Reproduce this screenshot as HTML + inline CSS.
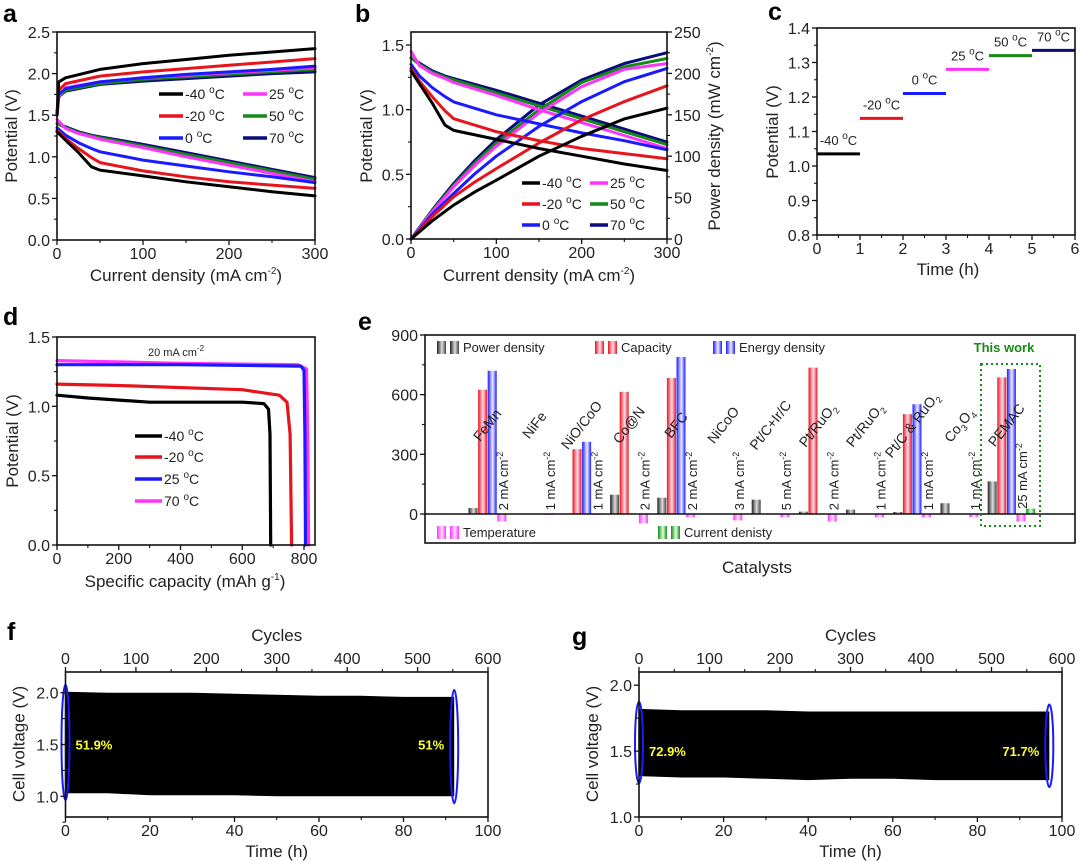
<!DOCTYPE html>
<html><head><meta charset="utf-8"><style>
html,body{margin:0;padding:0;background:#fff;}
svg{display:block;font-family:"Liberation Sans",Arial,sans-serif;}
</style></head><body>
<svg id="fig" width="1080" height="861" viewBox="0 0 1080 861" xmlns="http://www.w3.org/2000/svg">
<defs>
<linearGradient id="gBlack" x1="0" x2="1" y1="0" y2="0"><stop offset="0" stop-color="#222"/><stop offset="0.55" stop-color="#ddd"/><stop offset="1" stop-color="#444"/></linearGradient>
<linearGradient id="gRed" x1="0" x2="1" y1="0" y2="0"><stop offset="0" stop-color="#e8141b"/><stop offset="0.55" stop-color="#fde"/><stop offset="1" stop-color="#e8141b"/></linearGradient>
<linearGradient id="gBlue" x1="0" x2="1" y1="0" y2="0"><stop offset="0" stop-color="#1a1aff"/><stop offset="0.55" stop-color="#eef"/><stop offset="1" stop-color="#1a1aff"/></linearGradient>
<linearGradient id="gPink" x1="0" x2="1" y1="0" y2="0"><stop offset="0" stop-color="#ff33ff"/><stop offset="0.55" stop-color="#fdf"/><stop offset="1" stop-color="#ff33ff"/></linearGradient>
<linearGradient id="gGreen" x1="0" x2="1" y1="0" y2="0"><stop offset="0" stop-color="#168a16"/><stop offset="0.55" stop-color="#dfd"/><stop offset="1" stop-color="#168a16"/></linearGradient>
</defs>
</svg>
<script>
// ---------- data ----------
const tempLabels=['-40','-20','0','25','50','70'];
const tempColors=['#000','#e8141b','#1a1aff','#ff33ff','#168a16','#0b0b7a'];
// panel a
const aChgX=[0,2,10,50,100,150,200,250,300];
const aChgM40=[1.5,1.9,1.95,2.05,2.12,2.17,2.22,2.26,2.30];
const aChgM20=[1.5,1.8,1.88,1.97,2.02,2.06,2.10,2.14,2.18];
const aChg0=[1.5,1.75,1.82,1.90,1.95,1.99,2.02,2.05,2.09];
const aChg25=[1.5,1.72,1.83,1.90,1.95,1.98,2.01,2.04,2.07];
const aChg50=[1.5,1.72,1.80,1.88,1.93,1.96,1.99,2.02,2.05];
const aChg70=[1.5,1.72,1.79,1.87,1.91,1.94,1.97,2.00,2.02];
const disX=[0,10,25,40,50,100,150,200,250,300];
const disM40=[1.30,1.20,1.05,0.88,0.84,0.77,0.70,0.64,0.58,0.53];
const disM20=[1.32,1.22,1.10,0.99,0.93,0.83,0.76,0.70,0.66,0.62];
const dis0=[1.35,1.26,1.17,1.10,1.06,0.96,0.89,0.82,0.76,0.69];
const dis25=[1.45,1.34,1.28,1.24,1.21,1.11,1.00,0.90,0.80,0.70];
const dis50=[1.40,1.35,1.29,1.25,1.23,1.13,1.03,0.93,0.83,0.73];
const dis70=[1.40,1.36,1.30,1.26,1.24,1.15,1.05,0.95,0.85,0.75];
// panel b power
const powX=[0,25,50,75,100,150,200,250,300];
const powM40=[0,22,41,57,71,100,124,145,158];
const powM20=[0,27,51,69,85,116,144,166,185];
const pow0=[0,30,55,79,100,136,166,190,206];
const pow25=[0,33,63,89,112,152,184,205,212];
const pow50=[0,34,65,92,116,156,189,208,218];
const pow70=[0,35,67,95,120,162,192,212,225];
// panel c
const cStart=[0,1,2,3,4,5];
const cPotential=[1.035,1.138,1.21,1.28,1.32,1.335];
// panel d
const dM40X=[0,100,300,600,670,685,690,692];const dM40Y=[1.08,1.06,1.03,1.03,1.02,0.98,0.8,0];
const dM20X=[0,200,600,720,745,755,760];const dM20Y=[1.16,1.15,1.12,1.08,1.03,0.8,0];
const d25X=[0,400,790,800,803,805];const d25Y=[1.30,1.30,1.29,1.26,0.8,0];
const d70X=[0,400,780,808,812,815];const d70Y=[1.33,1.31,1.30,1.27,0.8,0];
// panel e
const catalysts=['FeMn','NiFe','NiO/CoO','Co@N','BFC','NiCoO','Pt/C+Ir/C','Pt/RuO<tspan font-size="9" dy="4">2</tspan>','Pt/RuO<tspan font-size="9" dy="4">2</tspan>','Pt/C &amp; RuO<tspan font-size="9" dy="4">2</tspan>','Co<tspan font-size="9" dy="4">3</tspan><tspan dy="-4">O</tspan><tspan font-size="9" dy="4">4</tspan>','PEMAC'];
const powerDensity=[30,0,0,97,82,0,72,12,22,10,54,164];
const capacity=[625,0,326,614,684,0,0,736,0,502,0,687];
const energyDensity=[720,0,363,0,790,0,0,0,0,552,0,729];
const temperature=[-38,-5,-5,-47,-17,-32,-17,-38,-17,-17,-17,-38];
const currentDensity=[0,0,0,0,0,0,0,0,0,0,0,27];
const currentLabels=['2','1','1','2','2','3','5','2','1','1','1','25'];
// panel f/g
const fTime=[0,10,20,30,40,50,60,70,80,92];
const fUpper=[2.01,2.0,2.0,2.0,1.99,1.98,1.97,1.97,1.96,1.96];
const fLower=[1.03,1.03,1.01,1.01,1.01,1.0,1.0,1.0,1.0,1.0];
const gTime=[0,10,20,30,40,50,60,70,80,97];
const gUpper=[1.82,1.81,1.81,1.81,1.80,1.80,1.80,1.80,1.80,1.80];
const gLower=[1.31,1.30,1.30,1.29,1.28,1.29,1.29,1.28,1.28,1.28];

// ---------- helpers ----------
const NS='http://www.w3.org/2000/svg';
const svg=document.getElementById('fig');
const TICK=16,TITLE=17;
function mk(tag,attrs,parent){const e=document.createElementNS(NS,tag);for(const k in attrs)e.setAttribute(k,attrs[k]);(parent||svg).appendChild(e);return e;}
function txt(html,x,y,attrs,name,parent){const e=mk('text',Object.assign({x:x,y:y,'font-size':TICK,fill:'#222'},attrs||{}),parent);e.innerHTML=html;


return e;}
function lin(d0,d1,r0,r1){return v=>r0+(v-d0)/(d1-d0)*(r1-r0);}
function deg(t){return t+' <tspan font-size="10" dy="-6">o</tspan><tspan dy="6">C</tspan>';}
function grp(name){const g=mk('g',{});


return g;}
function line(X,Y,xs,ys,color,w,name,parent){
 const p=mk('path',{d:xs.map((x,i)=>(i?'L':'M')+X(x).toFixed(1)+','+Y(ys[i]).toFixed(1)).join(''),fill:'none',stroke:color,'stroke-width':w,'stroke-linejoin':'round','stroke-linecap':'round'},parent);
 
 
 return p;}
function frame(x0,x1,y0,y1,parent){const r=mk('rect',{x:x0,y:y0,width:x1-x0,height:y1-y0,fill:'none',stroke:'#111','stroke-width':1.6},parent);

}
function xTicks(X,yPos,vals,minor,dir,parent,labelY,fmt){
 vals.forEach(v=>{const t=mk('line',{x1:X(v),x2:X(v),y1:yPos,y2:yPos+5*dir,stroke:'#111','stroke-width':1.3},parent);
 
 
 txt(fmt?fmt(v):String(v),X(v),labelY,{'text-anchor':'middle'},'x-tick-label',parent);});
 minor.forEach(v=>{const t=mk('line',{x1:X(v),x2:X(v),y1:yPos,y2:yPos+3*dir,stroke:'#111','stroke-width':1.1},parent);
 
 });}
function yTicks(Y,xPos,vals,minor,dir,parent,fmt){
 vals.forEach(v=>{const t=mk('line',{x1:xPos,x2:xPos+5*dir,y1:Y(v),y2:Y(v),stroke:'#111','stroke-width':1.3},parent);
 
 
 txt(fmt?fmt(v):String(v),xPos+7*dir,Y(v)+6,{'text-anchor':dir<0?'end':'start'},'y-tick-label',parent);});
 minor.forEach(v=>{const t=mk('line',{x1:xPos,x2:xPos+3*dir,y1:Y(v),y2:Y(v),stroke:'#111','stroke-width':1.1},parent);
 
 });}
function legendEntry(x,y,color,label,parent,len){
 const l=mk('line',{x1:x,x2:x+(len||24),y1:y,y2:y,stroke:color,'stroke-width':3.5},parent);
 
 
 txt(label,x+(len||24)+2,y+5,{'font-size':14},'legend-entry',parent);}
const f1=v=>v.toFixed(1);
function panelLetter(l,x,y){txt(l,x,y,{'font-size':25,'font-weight':'bold',fill:'#000'},'panel-label-'+l);}

// ---------- panel a ----------
(function(){
 const g=grp('panel-a');
 const X=lin(0,300,57,315),Y=lin(0,2.5,240,32);
 panelLetter('a',3,22);
 const chg=[aChgM40,aChgM20,aChg0,aChg25,aChg50,aChg70];
 const dis=[disM40,disM20,dis0,dis25,dis50,dis70];
 for(let i=5;i>=0;i--){line(X,Y,aChgX,chg[i],tempColors[i],3,'charge-curve-'+tempLabels[i],g);line(X,Y,disX,dis[i],tempColors[i],3,'discharge-curve-'+tempLabels[i],g);}
 frame(57,315,32,240,g);
 xTicks(X,240,[0,100,200,300],[50,150,250],1,g,259);
 yTicks(Y,57,[0,0.5,1,1.5,2,2.5],[0.25,0.75,1.25,1.75,2.25],-1,g,f1);
 txt('Potential (V)',0,0,{'font-size':TITLE,'text-anchor':'middle',transform:'translate(17,136) rotate(-90)'},'y-axis-title',g);
 txt('Current density (mA cm<tspan font-size="10" dy="-7">-2</tspan><tspan dy="7">)</tspan>',186,281,{'font-size':TITLE,'text-anchor':'middle'},'x-axis-title',g);
 const lx=[159,243],ly=[94,116,138];
 for(let i=0;i<6;i++)legendEntry(lx[Math.floor(i/3)],ly[i%3],tempColors[i],deg(tempLabels[i]),g);
})();

// ---------- panel b ----------
(function(){
 const g=grp('panel-b');
 const X=lin(0,300,411,667),Y=lin(0,1.5,239,45),P=lin(0,250,239,32);
 panelLetter('b',355,22);
 const dis=[disM40,disM20,dis0,dis25,dis50,dis70];
 const pw=[powM40,powM20,pow0,pow25,pow50,pow70];
 for(let i=5;i>=0;i--){line(X,Y,disX,dis[i],tempColors[i],3,'polarization-curve-'+tempLabels[i],g);line(X,P,powX,pw[i],tempColors[i],3,'power-curve-'+tempLabels[i],g);}
 frame(411,667,32,239,g);
 xTicks(X,239,[0,100,200,300],[50,150,250],1,g,258);
 yTicks(Y,411,[0,0.5,1,1.5],[0.25,0.75,1.25],-1,g,f1);
 yTicks(P,667,[0,50,100,150,200,250],[25,75,125,175,225],1,g);
 txt('Potential (V)',0,0,{'font-size':TITLE,'text-anchor':'middle',transform:'translate(372,136) rotate(-90)'},'y-axis-title',g);
 txt('Power density (mW cm<tspan font-size="10" dy="-7">-2</tspan><tspan dy="7">)</tspan>',0,0,{'font-size':TITLE,'text-anchor':'middle',transform:'translate(720,136) rotate(-90)'},'y2-axis-title',g);
 txt('Current density (mA cm<tspan font-size="10" dy="-7">-2</tspan><tspan dy="7">)</tspan>',539,281,{'font-size':TITLE,'text-anchor':'middle'},'x-axis-title',g);
 const lx=[522,590],ly=[183,204,225];
 for(let i=0;i<6;i++)legendEntry(lx[Math.floor(i/3)],ly[i%3],tempColors[i],deg(tempLabels[i]),g,18);
})();

// ---------- panel c ----------
(function(){
 const g=grp('panel-c');
 const X=lin(0,6,817,1075),Y=lin(0.8,1.4,235,28);
 panelLetter('c',768,20);
 cStart.forEach((s,i)=>{
  const l=mk('line',{x1:X(s),x2:X(s+1),y1:Y(cPotential[i]),y2:Y(cPotential[i]),stroke:tempColors[i],'stroke-width':3},g);
  
  
  txt(deg(tempLabels[i]),X(s+0.5),Y(cPotential[i])-9,{'font-size':13,'text-anchor':'middle'},'step-label-'+tempLabels[i],g);
 });
 frame(817,1075,28,235,g);
 xTicks(X,235,[0,1,2,3,4,5,6],[0.5,1.5,2.5,3.5,4.5,5.5],1,g,254);
 yTicks(Y,817,[0.8,0.9,1.0,1.1,1.2,1.3,1.4],[0.85,0.95,1.05,1.15,1.25,1.35],-1,g,f1);
 txt('Potential (V)',0,0,{'font-size':TITLE,'text-anchor':'middle',transform:'translate(778,132) rotate(-90)'},'y-axis-title',g);
 txt('Time (h)',948,275,{'font-size':TITLE,'text-anchor':'middle'},'x-axis-title',g);
})();

// ---------- panel d ----------
(function(){
 const g=grp('panel-d');
 const X=lin(0,800,57,304),Y=lin(0,1.5,545,337);
 panelLetter('d',3,325);
 const xs=[dM40X,dM20X,d25X,d70X],ys=[dM40Y,dM20Y,d25Y,d70Y],cols=['#000','#e8141b','#1a1aff','#ff33ff'],lb=['-40','-20','25','70'];
 for(let i=3;i>=0;i--)line(X,Y,xs[i],ys[i],cols[i],3.2,'discharge-curve-'+lb[i],g);
 frame(57,315,337,545,g);
 xTicks(X,545,[0,200,400,600,800],[100,300,500,700],1,g,564);
 yTicks(Y,57,[0,0.5,1,1.5],[0.25,0.75,1.25],-1,g,f1);
 txt('Potential (V)',0,0,{'font-size':TITLE,'text-anchor':'middle',transform:'translate(18,441) rotate(-90)'},'y-axis-title',g);
 txt('Specific capacity (mAh g<tspan font-size="10" dy="-7">-1</tspan><tspan dy="7">)</tspan>',185,587,{'font-size':TITLE,'text-anchor':'middle'},'x-axis-title',g);
 txt('20 mA cm<tspan font-size="8" dy="-5">-2</tspan>',148,356,{'font-size':11}, 'current-annotation',g);
 const ly=[436,457,479,501];
 for(let i=0;i<4;i++)legendEntry(135,ly[i],cols[i],deg(lb[i]),g,27);
})();

// ---------- panel e ----------
(function(){
 const g=grp('panel-e');
 const Y=lin(0,900,514,335);
 const G=i=>473+i*47.2; // category axis
 const slot=s=>s*9.6;
 const bw=9;
 panelLetter('e',358,330);
 const series=[[powerDensity,'gBlack','power-density-bar',0],[capacity,'gRed','capacity-bar',1],[energyDensity,'gBlue','energy-density-bar',2],[temperature,'gPink','temperature-bar',3],[currentDensity,'gGreen','current-density-bar',4]];
 series.forEach(s=>{s[0].forEach((v,i)=>{if(v===0)return;
  const x=G(i)+slot(s[3])-bw/2;
  const y=Math.min(Y(0),Y(v)),h=Math.abs(Y(v)-Y(0));
  const r=mk('rect',{x:x,y:y,width:bw,height:h,fill:'url(#'+s[1]+')'},g);
  
  
 });});
 catalysts.forEach((c,i)=>{
  txt(c,0,0,{'font-size':14,'text-anchor':'middle',transform:'translate('+(G(i)+18)+',428) rotate(-52)'},'catalyst-label',g);
  const cy=i===11?476:481;
  txt(currentLabels[i]+' mA cm<tspan font-size="9" dy="-5">-2</tspan>',0,0,{'font-size':13,'text-anchor':'middle',transform:'translate('+(G(i)+35)+','+cy+') rotate(-90)'},'current-density-label',g);
 });
 const z=mk('line',{x1:425,x2:1075,y1:Y(0),y2:Y(0),stroke:'#111','stroke-width':1.6},g);
 
 
 frame(425,1075,335,543,g);
 yTicks(Y,425,[0,300,600,900],[150,450,750],-1,g);
 const hb=mk('rect',{x:981,y:364,width:59,height:162,fill:'none',stroke:'#168a16','stroke-width':2,'stroke-dasharray':'2,3'},g);
 
 
 txt('This work',1004,352,{'font-size':13,'font-weight':'bold',fill:'#168a16','text-anchor':'middle'},'this-work-label',g);
 const leg=[[437,347,'gBlack','Power density'],[595,347,'gRed','Capacity'],[713,347,'gBlue','Energy density'],[437,532,'gPink','Temperature'],[658,532,'gGreen','Current denisty']];
 leg.forEach(l=>{
  const a=mk('rect',{x:l[0],y:l[1]-6,width:9,height:13,fill:'url(#'+l[2]+')'},g);
  
  
  const b=mk('rect',{x:l[0]+13,y:l[1]-6,width:9,height:13,fill:'url(#'+l[2]+')'},g);
  
  
  txt(l[3],l[0]+26,l[1]+5,{'font-size':13},'legend-entry',g);
 });
 txt('Catalysts',757,573,{'font-size':TITLE,'text-anchor':'middle'},'x-axis-title',g);
})();

// ---------- panels f, g ----------
function cycling(letter,lx,ly,x0,x1,ymin,ymax,yt,ym,time,upper,lower,p1,p2){
 const g=grp('panel-'+letter);
 const X=lin(0,100,x0,x1),C=lin(0,600,x0,x1),Y=lin(ymin,ymax,817,672);
 panelLetter(letter,lx,ly);
 const pts=time.map((t,i)=>X(t).toFixed(1)+','+Y(upper[i]).toFixed(1)).concat(time.slice().reverse().map((t,j)=>X(t).toFixed(1)+','+Y(lower[time.length-1-j]).toFixed(1)));
 const band=mk('polygon',{points:pts.join(' '),fill:'#000'},g);
 
 
 const n=time.length-1;
 [[0,upper[0],lower[0]],[n,upper[n],lower[n]]].forEach((e,k)=>{
  const el=mk('ellipse',{cx:X(time[e[0]]),cy:(Y(e[1])+Y(e[2]))/2,rx:4,ry:(Y(e[2])-Y(e[1]))/2+7,fill:'none',stroke:'#1a1aff','stroke-width':2},g);
  
  
 });
 txt(p1,X(time[0])+10,Y(1.5)+5,{'font-size':13,'font-weight':'bold',fill:'#ffff33'},'start-efficiency-label',g);
 txt(p2,X(time[n])-10,Y(1.5)+5,{'font-size':13,'font-weight':'bold',fill:'#ffff33','text-anchor':'end'},'end-efficiency-label',g);
 frame(x0,x1,672,817,g);
 xTicks(X,817,[0,20,40,60,80,100],[10,30,50,70,90],1,g,836);
 xTicks(C,672,[0,100,200,300,400,500,600],[50,150,250,350,450,550],-1,g,664);
 yTicks(Y,x0,yt,ym,-1,g,f1);
 txt('Cell voltage (V)',0,0,{'font-size':TITLE,'text-anchor':'middle',transform:'translate('+(x0-41)+',744) rotate(-90)'},'y-axis-title',g);
 txt('Cycles',(x0+x1)/2,641,{'font-size':TITLE,'text-anchor':'middle'},'x2-axis-title',g);
 txt('Time (h)',(x0+x1)/2,857,{'font-size':TITLE,'text-anchor':'middle'},'x-axis-title',g);
}
cycling('f',7,640,65.5,488,0.8,2.2,[1.0,1.5,2.0],[0.75,1.25,1.75],fTime,fUpper,fLower,'51.9%','51%');
cycling('g',572,645,639,1062,1.0,2.1,[1.0,1.5,2.0],[1.25,1.75],gTime,gUpper,gLower,'72.9%','71.7%');
</script>
</body></html>
